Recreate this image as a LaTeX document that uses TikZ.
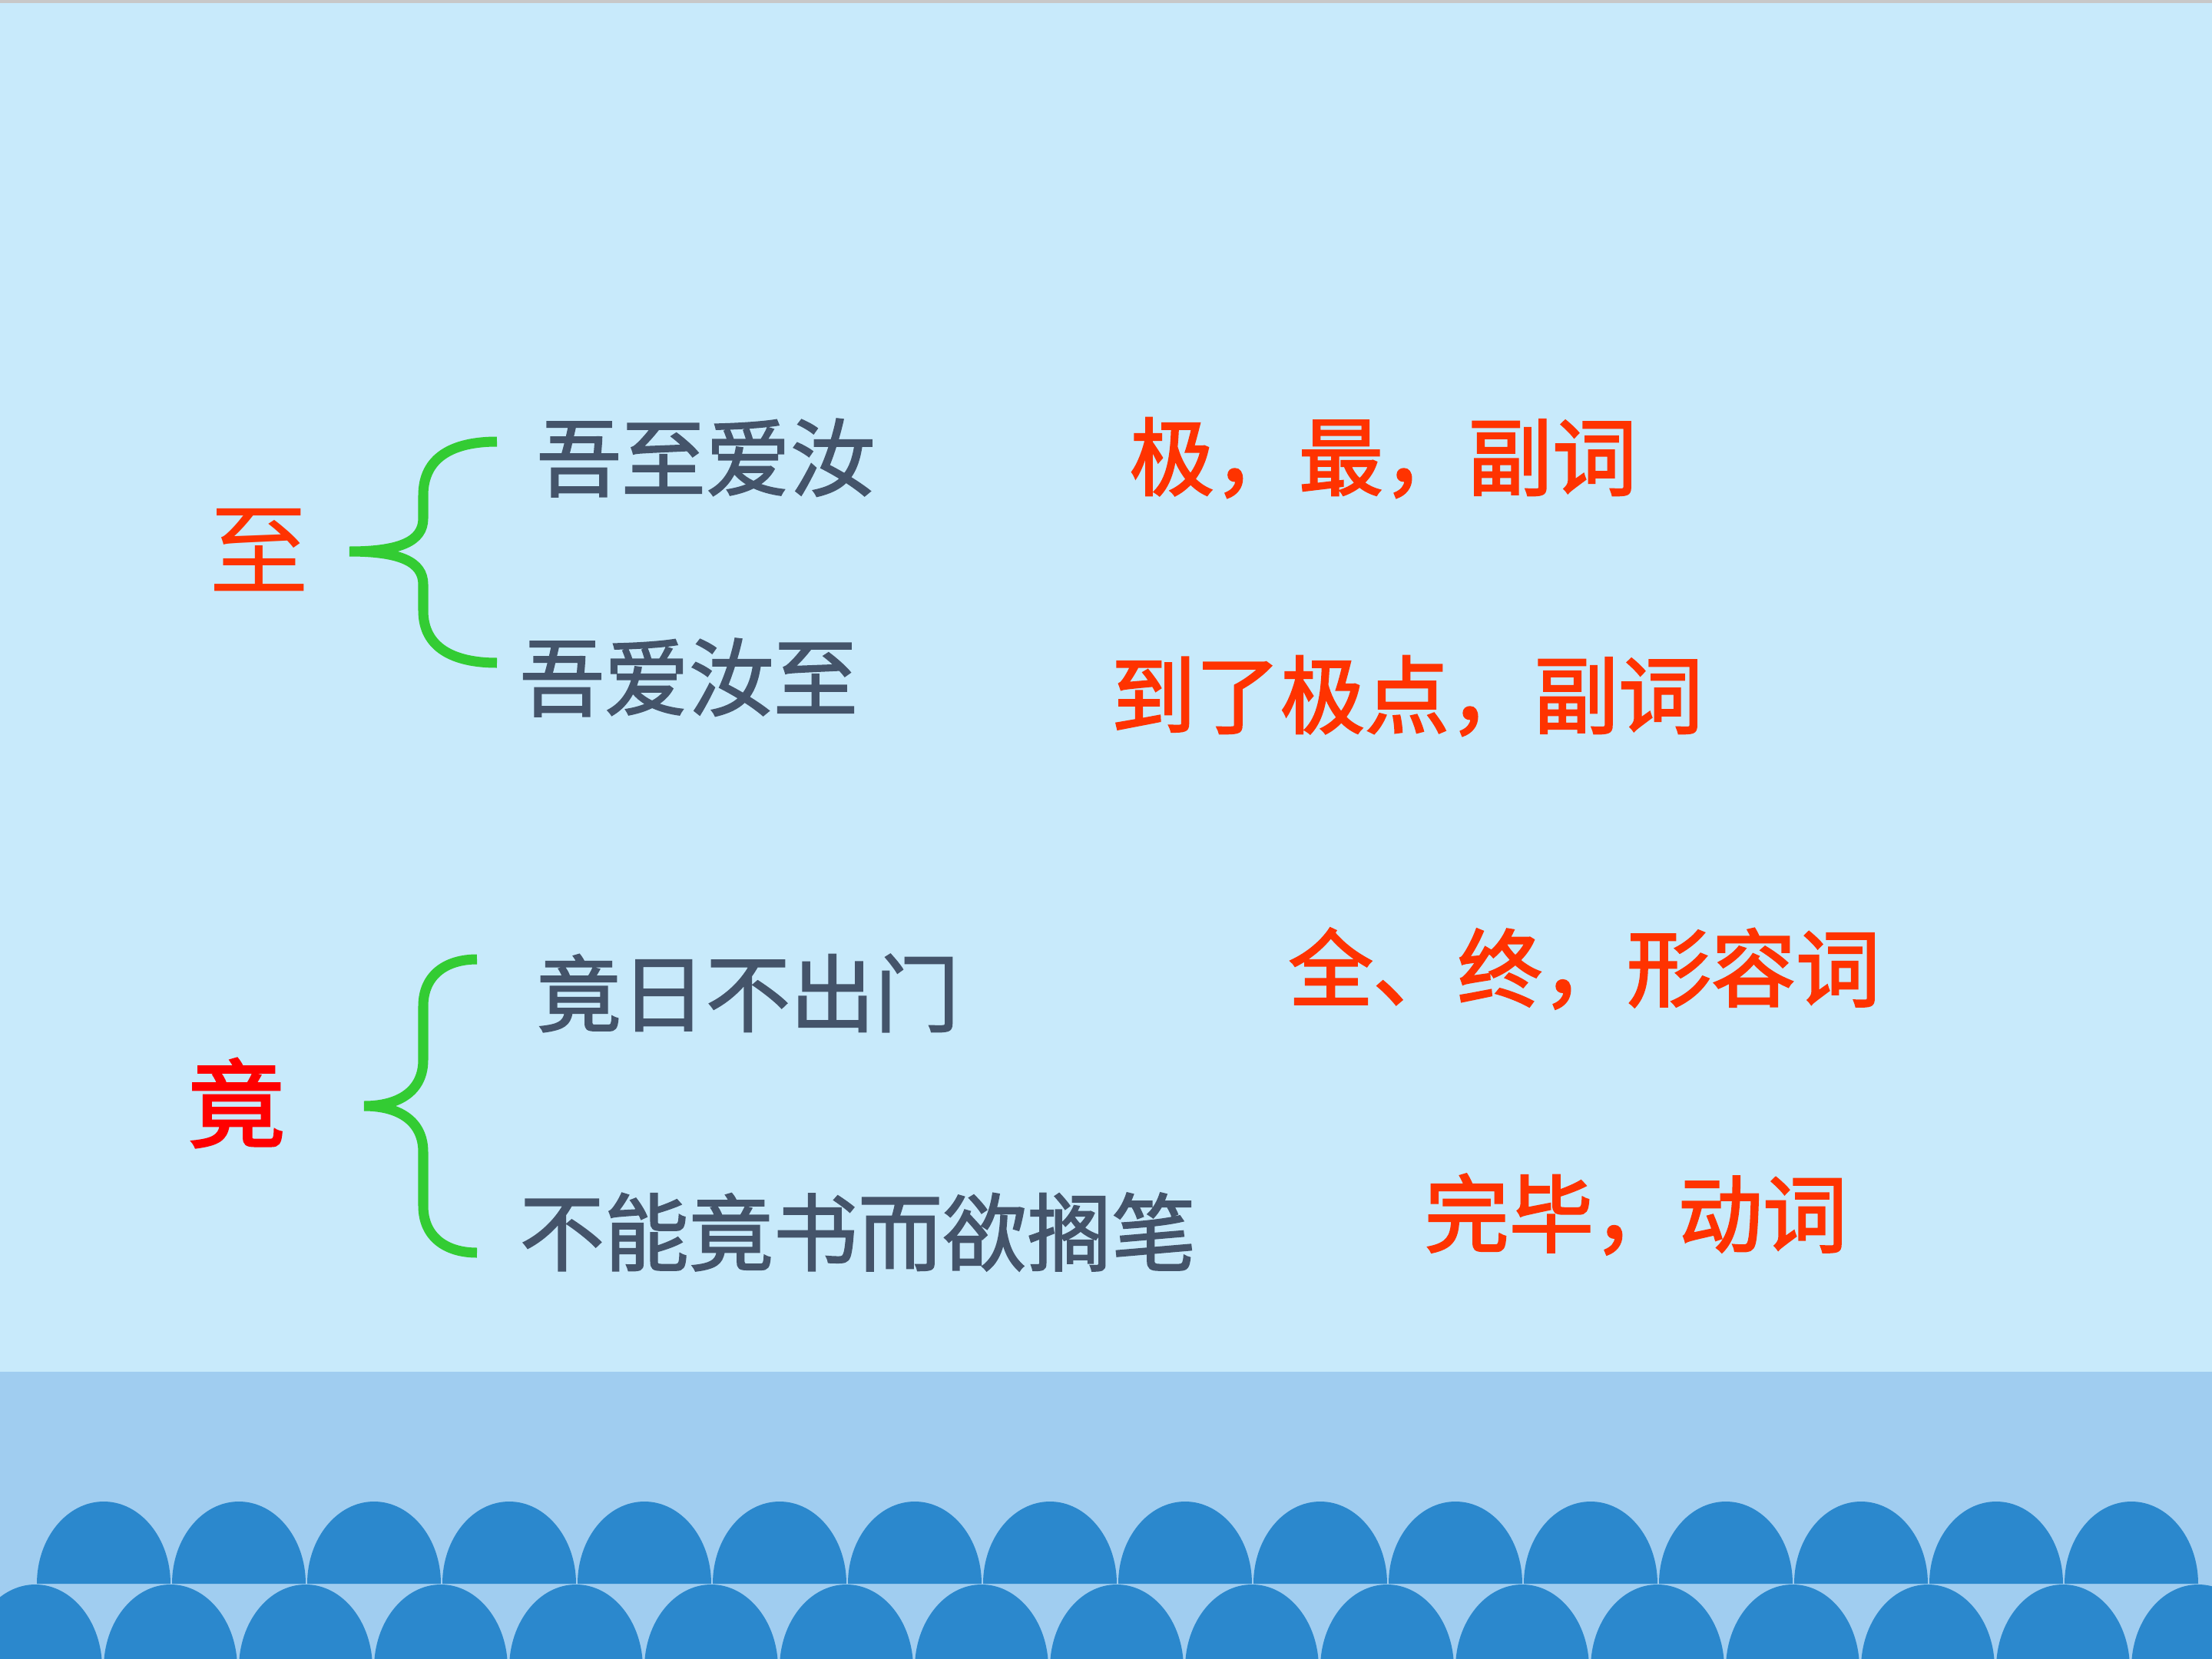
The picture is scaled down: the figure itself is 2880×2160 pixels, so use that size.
\documentclass[tikz,border=0pt]{standalone}
\usepackage{fontspec}
\newfontfamily\cjk{Noto Sans CJK SC}
\newfontfamily\cjkmid[FakeBold=1.7]{Noto Sans CJK SC}
\newfontfamily\cjkheavy[FakeBold=2.2]{Noto Sans CJK SC}
\definecolor{bg}{RGB}{200,234,251}
\definecolor{band}{RGB}{160,205,240}
\definecolor{wave}{RGB}{43,136,205}
\definecolor{topline}{RGB}{200,200,200}
\definecolor{textgray}{RGB}{68,84,106}
\definecolor{redorange}{RGB}{255,51,0}
\definecolor{purered}{RGB}{255,0,0}
\definecolor{bracegreen}{RGB}{51,204,51}
\tikzset{
  gtext/.style={anchor=west,inner sep=0pt,text=textgray,font=\cjkmid\fontsize{31.3}{36}\selectfont},
  rtext/.style={anchor=west,inner sep=0pt,text=redorange,font=\cjkheavy\fontsize{31.3}{36}\selectfont},
  headchar/.style={anchor=center,inner sep=0pt,font=\cjk\fontsize{37}{40}\selectfont},
  bracepath/.style={draw=bracegreen,line width=3.7pt,line cap=butt},
  arch/.style={fill=wave,draw=none}
}
\begin{document}
\begin{tikzpicture}[x=0.01cm,y=-0.01cm]
\useasboundingbox (0,0) rectangle (2880,2160);
% background
\fill[bg] (0,0) rectangle (2880,2160);
\fill[topline] (0,0) rectangle (2880,4);
\fill[band] (0,1786) rectangle (2880,2160);
\begin{scope}
\clip (0,0) rectangle (2880,2160);
\foreach \k in {0,...,15}{
  \fill[arch] ({135+176*\k-87},2062) arc[start angle=180,end angle=360,x radius=87,y radius=107] -- cycle;
}
\foreach \k in {0,...,16}{
  \fill[arch] ({46+176*\k-87},2172) arc[start angle=180,end angle=360,x radius=87,y radius=109] -- cycle;
}
\end{scope}
% head characters
\node[headchar,text=redorange] (zhi) at (338,716) {至};
\node[headchar,text=purered,font=\cjkheavy\fontsize{36}{40}\selectfont] (jing) at (308,1436) {竟};
% sentences
\node[gtext] (s1) at (698,596) {吾至爱汝};
\node[gtext] (s2) at (676,882) {吾爱汝至};
\node[gtext] (s3) at (698,1293) {竟日不出门};
\node[gtext] (s4) at (676,1604) {不能竟书而欲搁笔};
% meanings
\node[rtext] (m1) at (1470,596) {极，最，副词};
\node[rtext] (m2) at (1446,906) {到了极点，副词};
\node[rtext] (m3) at (1677,1261) {全、终，形容词};
\node[rtext] (m4) at (1854,1581) {完毕，动词};
% braces
\coordinate (b1t) at (647,575);
\coordinate (b1m) at (455,718);
\coordinate (b1b) at (647,863);
\draw[bracepath] (b1t) .. controls (590,575) and (551,595) .. (551,645) -- (551,675)
  .. controls (551,705) and (520,718) .. (b1m)
  .. controls (520,718) and (551,731) .. (551,761) -- (551,795)
  .. controls (551,843) and (590,863) .. (b1b);
\coordinate (b2t) at (621,1249);
\coordinate (b2m) at (474,1440);
\coordinate (b2b) at (621,1631);
\draw[bracepath] (b2t) .. controls (580,1249) and (551,1270) .. (551,1310) -- (551,1380)
  .. controls (551,1420) and (520,1440) .. (b2m)
  .. controls (520,1440) and (551,1460) .. (551,1500) -- (551,1570)
  .. controls (551,1610) and (580,1631) .. (b2b);
\end{tikzpicture}
\end{document}
